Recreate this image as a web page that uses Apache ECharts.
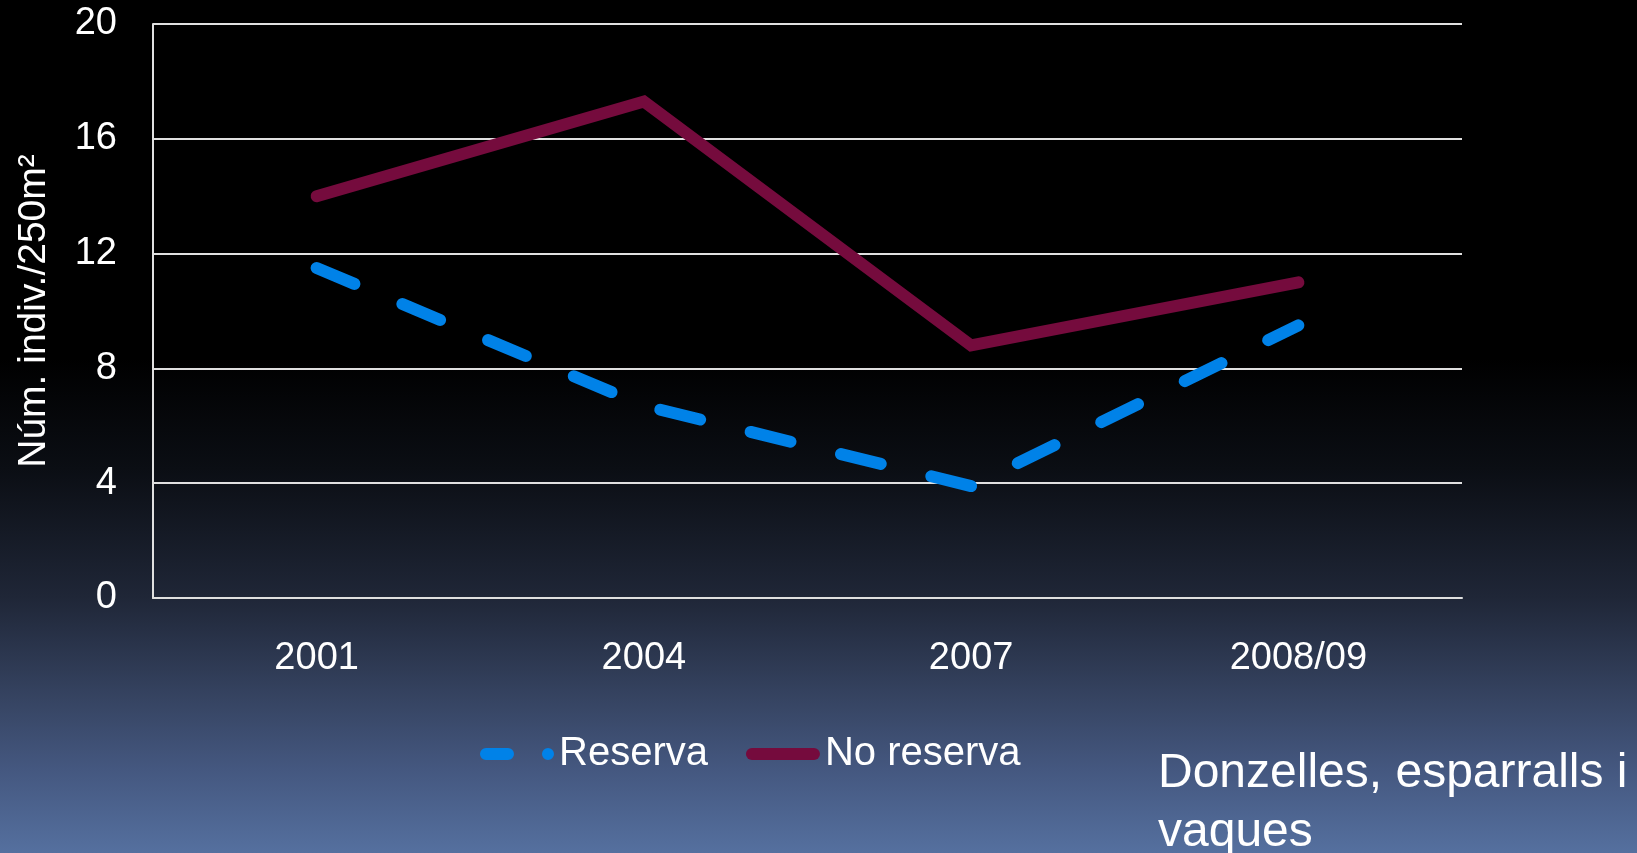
<!DOCTYPE html>
<html>
<head>
<meta charset="utf-8">
<script src="https://cdn.jsdelivr.net/npm/echarts@6/dist/echarts.min.js"></script>
<style>
html,body{margin:0;padding:0;width:1637px;height:853px;overflow:hidden;}
#chart{width:1637px;height:853px;}
</style>
</head>
<body>
<div id="chart"></div>
<script>
const categories = ['2001', '2004', '2007', '2008/09'];
const reserva = [11.5, 6.7, 3.9, 9.5];
const noReserva = [14, 17.3, 8.8, 11];
const yTicks = [0, 4, 8, 12, 16, 20];
const seriesNames = ['Reserva', 'No reserva'];
const yAxisName = 'Núm. indiv./250m²';
const noteText = 'Donzelles, esparralls i\nvaques';

const FONT = "'Liberation Sans', Arial, sans-serif";
// legend icons: rounded dash + dot (dashed series) and rounded bar (solid series)
const dashIcon = 'path://M6,0 L28,0 A6,6 0 0 1 28,12 L6,12 A6,6 0 0 1 6,0 Z M68,0 A6,6 0 1 1 68,12 A6,6 0 1 1 68,0 Z';
const solidIcon = 'path://M6,0 L68,0 A6,6 0 0 1 68,12 L6,12 A6,6 0 0 1 6,0 Z';

const chart = echarts.init(document.getElementById('chart'));
chart.setOption({
  animation: false,
  backgroundColor: {
    type: 'linear', x: 0, y: 0, x2: 0, y2: 1,
    colorStops: [
      {offset: 0, color: '#000000'},
      {offset: 0.42, color: '#000000'},
      {offset: 0.55, color: '#0b0e14'},
      {offset: 0.70, color: '#1f2637'},
      {offset: 0.82, color: '#364462'},
      {offset: 0.90, color: '#44577f'},
      {offset: 1, color: '#55709f'}
    ]
  },
  title: {
    text: noteText,
    left: 1158, top: 744, padding: 0,
    textStyle: {color: '#ffffff', fontSize: 48, lineHeight: 59, fontWeight: 'normal', fontFamily: FONT}
  },
  grid: {left: 153, right: 175, top: 24, bottom: 255, outerBoundsMode: 'none', containLabel: false},
  legend: {
    left: 480, top: 734, padding: 0,
    itemWidth: 74, itemHeight: 12, itemGap: 38,
    textStyle: {color: '#ffffff', fontSize: 40, fontFamily: FONT},
    data: [
      {name: seriesNames[0], icon: dashIcon, itemStyle: {color: '#0082e8', borderWidth: 0}},
      {name: seriesNames[1], icon: solidIcon, itemStyle: {color: '#750b3d', borderWidth: 0}}
    ]
  },
  xAxis: {
    type: 'category',
    data: categories,
    boundaryGap: true,
    axisLine: {show: true, lineStyle: {color: '#e0e0e0', width: 2}},
    axisTick: {show: false},
    axisLabel: {color: '#ffffff', fontSize: 38, fontFamily: FONT, margin: 42}
  },
  yAxis: {
    type: 'value',
    min: yTicks[0], max: yTicks[yTicks.length - 1], interval: 4,
    name: yAxisName,
    nameLocation: 'middle',
    nameGap: 99,
    nameRotate: 90,
    nameTextStyle: {color: '#ffffff', fontSize: 39, fontFamily: FONT},
    axisLine: {show: true, lineStyle: {color: '#e0e0e0', width: 2}},
    axisTick: {show: false},
    splitLine: {show: true, lineStyle: {color: '#e0e0e0', width: 2}},
    axisLabel: {color: '#ffffff', fontSize: 38, fontFamily: FONT, margin: 36}
  },
  series: [
    {
      name: seriesNames[0], type: 'line', data: reserva,
      symbol: 'none', showSymbol: false,
      color: '#0082e8',
      lineStyle: {color: '#0082e8', width: 12, type: [41, 52], cap: 'round', join: 'round'},
      z: 3
    },
    {
      name: seriesNames[1], type: 'line', data: noReserva,
      symbol: 'none', showSymbol: false,
      color: '#750b3d',
      lineStyle: {color: '#750b3d', width: 12, type: 'solid', cap: 'round', join: 'miter'},
      z: 2
    }
  ]
});
</script>
</body>
</html>
